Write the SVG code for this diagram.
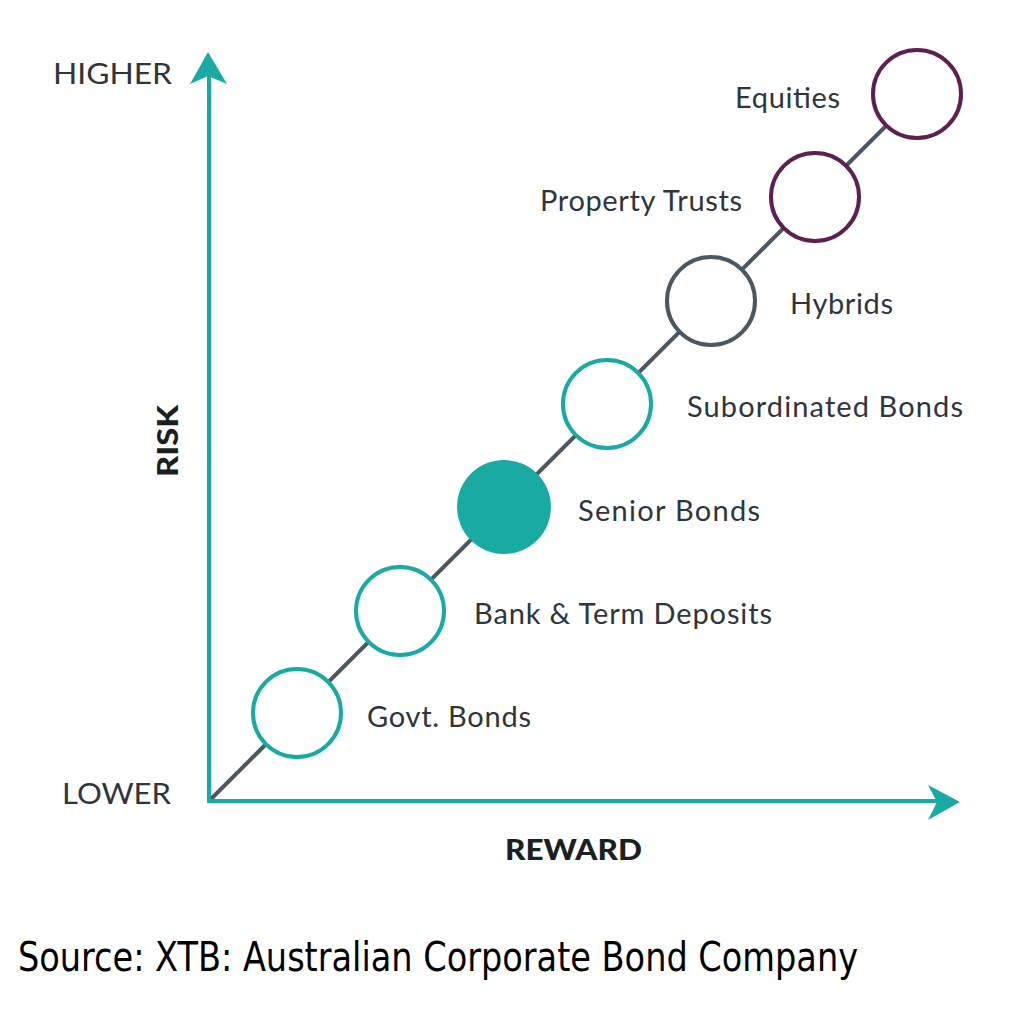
<svg xmlns="http://www.w3.org/2000/svg" width="1015" height="1015" viewBox="0 0 1015 1015">
<style>
.axis{stroke:#19aaa3;stroke-width:4;fill:none}
.head{fill:#19aaa3}
.diag{stroke:#4b5761;stroke-width:4;fill:none}
.c{fill:#fff;stroke-width:4}
.teal{stroke:#19aaa3}
.gray{stroke:#4b5761}
.purp{stroke:#5c2150}
.lbl{font-family:Lato,"Open Sans",sans-serif;font-size:29px;fill:#2e353c}
.bold{font-family:Lato,"Open Sans",sans-serif;font-size:28px;font-weight:900;fill:#1a1f24}
.src{font-family:"DejaVu Sans Condensed","DejaVu Sans",sans-serif;font-size:40px;fill:#000}
</style>
<rect width="1015" height="1015" fill="#fff"/>
<g id="connectors">
<line class="diag" x1="209" y1="801" x2="918" y2="94"/>
<line class="axis" x1="209" y1="801" x2="209" y2="72"/>
<line class="axis" x1="207" y1="801" x2="940" y2="801"/>
<polygon class="head" points="208,52 227,84 208,76 190,84"/>
<polygon class="head" points="960,802 928,785 937,802 928,820"/>
</g>
<g id="govt"><circle class="c teal" cx="297" cy="713" r="44"/><text class="lbl" x="367" y="727" textLength="164">Govt. Bonds</text></g>
<g id="bank"><circle class="c teal" cx="400" cy="611" r="44"/><text class="lbl" x="474" y="624" textLength="298">Bank &amp; Term Deposits</text></g>
<g id="senior"><circle cx="504" cy="507" r="47" fill="#19aaa3"/><text class="lbl" x="578" y="521" textLength="182">Senior Bonds</text></g>
<g id="subordinated"><circle class="c teal" cx="607" cy="404" r="44"/><text class="lbl" x="687" y="417" textLength="276">Subordinated Bonds</text></g>
<g id="hybrids"><circle class="c gray" cx="711" cy="301" r="44"/><text class="lbl" x="790" y="314" textLength="103">Hybrids</text></g>
<g id="property"><circle class="c purp" cx="815" cy="197" r="44"/><text class="lbl" x="540" y="211" textLength="202">Property Trusts</text></g>
<g id="equities"><circle class="c purp" cx="917" cy="94" r="44"/><text class="lbl" x="735" y="108" textLength="105">Equities</text></g>
<g id="labels">
<text class="lbl" x="53" y="84" textLength="119" lengthAdjust="spacingAndGlyphs">HIGHER</text>
<text class="lbl" x="62" y="804" textLength="109" lengthAdjust="spacingAndGlyphs">LOWER</text>
<text class="bold" x="505" y="860" textLength="137" lengthAdjust="spacingAndGlyphs">REWARD</text>
<text class="bold" transform="translate(178,477) rotate(-90)" x="0" y="0" textLength="72" lengthAdjust="spacingAndGlyphs">RISK</text>
<text class="src" x="18" y="971" textLength="840" lengthAdjust="spacingAndGlyphs">Source: XTB: Australian Corporate Bond Company</text>
</g>
</svg>
